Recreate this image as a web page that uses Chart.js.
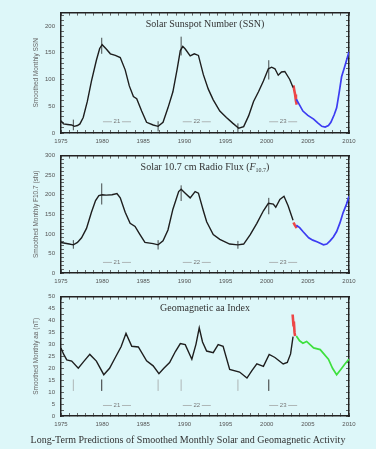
<!DOCTYPE html>
<html>
<head>
<meta charset="utf-8">
<script src="https://cdn.jsdelivr.net/npm/chart.js@4.4.1/dist/chart.umd.min.js"></script>
<style>
html,body{margin:0;padding:0;background:#ddf7f9;}
body{width:376px;height:449px;position:relative;overflow:hidden;}
canvas{position:absolute;left:0;}
#c1{top:0}
#c2{top:143px}
#c3{top:284px}
#foot{position:absolute;top:434px;left:0;width:376px;text-align:center;font:10px "Liberation Serif",serif;color:#333;}
</style>
</head>
<body>
<canvas id="c1" width="376" height="150"></canvas>
<canvas id="c2" width="376" height="147"></canvas>
<canvas id="c3" width="376" height="150"></canvas>
<div id="foot">Long-Term Predictions of Smoothed Monthly Solar and Geomagnetic Activity</div>
<script>
const yearLabels = [1975, 1980, 1985, 1990, 1995, 2000, 2005, 2010];

// sunspot number
const ssnYears = [1975.0,1975.3,1975.8,1976.3,1976.6,1977.0,1977.3,1977.7,1978.2,1978.7,1979.3,1979.7,1980.0,1980.5,1981.0,1981.6,1982.2,1982.8,1983.3,1983.8,1984.2,1984.8,1985.4,1986.2,1986.8,1987.4,1988.0,1988.6,1989.1,1989.5,1989.8,1990.1,1990.7,1991.2,1991.7,1992.3,1992.9,1993.5,1994.3,1995.1,1995.9,1996.6,1997.2,1997.8,1998.4,1999.0,1999.6,2000.2,2000.6,2001.0,2001.4,2001.8,2002.2,2002.8,2003.2];
const ssnValues = [23,17,16,15,12.5,14,17,29,59,97,136,158,165,157,148,145,141,118,88,68,64,41,20,15,12.5,20,47,77,118,154,162,157,144,148,145,109,82,62,41,29,18,9,12,32,59,77,97,120,123,120,108,114,115,100,85];
const ssnRedYears = [2003.25,2003.35,2003.45,2003.55,2003.65];
const ssnRedValues = [89,80,72,60,53];
const ssnPredYears = [2003.6,2004.0,2004.4,2005.0,2005.7,2006.2,2006.7,2007.1,2007.5,2007.8,2008.2,2008.5,2008.8,2009.1,2009.5,2010.0];
const ssnPredValues = [63,52,41,33,26,19,12.5,11,14,20,34,47,75,105,125,152];
const ssnMarkLow = [5,148,3,145,2,100];
const ssnMarkHigh = [25,178,22,180,18,136];

// 10.7 cm flux
const fluxYears = [1975.0,1975.5,1976.0,1976.5,1977.0,1977.5,1978.1,1978.7,1979.2,1979.6,1980.0,1980.5,1981.2,1981.8,1982.2,1982.8,1983.4,1984.0,1984.6,1985.2,1986.2,1986.8,1987.4,1988.0,1988.6,1989.3,1989.6,1990.1,1990.7,1991.3,1991.7,1992.3,1992.7,1993.5,1994.3,1995.5,1996.5,1997.2,1998.0,1998.8,1999.6,2000.2,2000.8,2001.1,2001.6,2002.1,2002.6,2003.2];
const fluxValues = [78,76,74,72,78,90,114,155,185,198,200,199,200,203,192,155,127,119,98,78,75,72,82,110,163,208,214,204,192,208,204,159,131,98,86,74,72,74,98,127,159,178,176,168,188,196,172,135];
const fluxRedYears = [2003.25,2003.4,2003.55,2003.65];
const fluxRedValues = [129,123,118,115];
const fluxPredYears = [2003.6,2004.0,2004.4,2005.1,2005.6,2006.1,2006.5,2006.9,2007.3,2007.7,2008.1,2008.5,2008.9,2009.3,2009.7,2010.0];
const fluxPredValues = [122,116,106,90,84,80,76,72,74,82,92,106,128,155,176,196];
const fluxMarkLow = [62,175,60,184,62,150];
const fluxMarkHigh = [84,229,84,224,82,192];

// geomagnetic aa
const aaYears = [1975.0,1975.3,1975.7,1976.3,1977.1,1977.8,1978.5,1979.3,1980.2,1980.9,1981.6,1982.3,1982.9,1983.6,1984.4,1985.4,1986.2,1986.9,1987.5,1988.2,1988.9,1989.5,1990.1,1990.9,1991.4,1991.8,1992.2,1992.7,1993.5,1994.1,1994.7,1995.5,1996.7,1997.6,1998.2,1998.8,1999.6,2000.3,2001.0,2002.0,2002.5,2002.9,2003.2];
const aaValues = [28.5,26,23.5,23,20,23,25.8,23,17.3,20,24.5,29,34.6,29.2,28.9,23.1,21,17.7,20,22.4,27,30.3,29.9,23.8,30,36.9,31,27.2,26.5,29.9,29.2,19.5,18.4,15.9,19,21.8,20.8,25.8,24.5,21.8,22.4,26,33.2];
const aaRedYears = [2003.15,2003.25,2003.3,2003.38,2003.45];
const aaRedValues = [42.5,38,39.5,35,33.5];
const aaPredYears = [2003.6,2004.0,2004.4,2004.85,2005.7,2006.5,2007.5,2008.0,2008.5,2009.0,2009.5,2010.0];
const aaPredValues = [33.5,31.5,30.5,31.2,28.5,27.8,23.8,20,17.3,19.5,21.8,23.8];
const aaMarkLow = [10.5,10.5,10.5,10.5,10.5,10.5];
const aaMarkHigh = [15.3,15.3,15.3,15.3,15.3,15.3];

const markYears = [1976.5, 1979.95, 1986.8, 1989.6, 1996.5, 2000.25];
const darkMarkYears = [1979.95, 2000.25];
const cycleYears = [1981.8, 1991.5, 2002.0];
const cycleNames = ['21', '22', '23'];

function pts(xs, ys){ return xs.map((x,i)=>({x, y:ys[i]})); }
function marks(lo, hi, keep){
  const out = [];
  markYears.forEach((x,i)=>{
    if(keep && !keep(x)) return;
    out.push({x, y:lo[i]}, {x, y:hi[i]}, {x, y:null});
  });
  return out;
}
function line(data, color, width){
  return {data, borderColor:color, borderWidth:width, pointRadius:0, tension:0, spanGaps:false};
}

const overlay = {
  id:'overlay',
  afterDatasetsDraw(chart, args, o){
    const {ctx, chartArea:a, scales:{x, y}} = chart;
    ctx.save();
    // title inside the frame, drawn as runs so the subscript works
    let w = 0;
    o.title.forEach(r=>{ ctx.font = r.font; w += ctx.measureText(r.t).width; });
    let cx = (a.left + a.right)/2 - w/2;
    const ty = a.top + 12;
    ctx.fillStyle = '#333'; ctx.textBaseline = 'middle'; ctx.textAlign = 'left';
    o.title.forEach(r=>{ ctx.font = r.font; ctx.fillText(r.t, cx, ty + (r.dy||0)); cx += ctx.measureText(r.t).width; });
    // cycle numbers
    ctx.font = '6px "Liberation Sans"'; ctx.fillStyle = '#777'; ctx.strokeStyle = '#999'; ctx.lineWidth = 0.7;
    ctx.textAlign = 'center';
    cycleYears.forEach((yr,i)=>{
      const px = x.getPixelForValue(yr), py = y.getPixelForValue(o.cycleY);
      ctx.fillText(cycleNames[i], px, py);
      ctx.beginPath();
      ctx.moveTo(px-14, py); ctx.lineTo(px-5, py);
      ctx.moveTo(px+5, py); ctx.lineTo(px+14, py);
      ctx.stroke();
    });
    ctx.restore();
  }
};

function makePanel(id, cfg){
  const axisFont = {size:6, family:'"Liberation Sans", sans-serif'};
  const yTicks = [];
  for(let v=0; v<=cfg.max+1e-9; v+=cfg.minor) yTicks.push(+v.toFixed(2));
  const xTicks = [];
  for(let v=1975; v<=2010; v++) xTicks.push(v);
  const frame = {color:'#222', width:1.5};
  const inner = {drawOnChartArea:false, tickLength:-3, tickColor:'#444', tickWidth:0.8};
  new Chart(document.getElementById(id), {
    type:'line',
    data:{datasets:cfg.datasets},
    options:{
      responsive:false, animation:false, parsing:true,
      layout:{padding:{left:32, right:27, top:8, bottom:0}},
      plugins:{legend:{display:false}, tooltip:{enabled:false}, overlay:{title:cfg.title, cycleY:cfg.cycleY}},
      scales:{
        x:{type:'linear', position:'bottom', min:1975, max:2010,
          afterFit:s=>{ s.height = cfg.axisH; },
          afterBuildTicks:s=>{ s.ticks = xTicks.map(v=>({value:v})); },
          ticks:{autoSkip:false, maxRotation:0, padding:8, font:axisFont, color:'#555',
            callback:v=> yearLabels.includes(v) ? String(v) : ''},
          grid:inner, border:frame},
        x2:{type:'linear', position:'top', min:1975, max:2010,
          afterFit:s=>{ s.height = 0; },
          afterBuildTicks:s=>{ s.ticks = xTicks.map(v=>({value:v})); },
          ticks:{display:false}, grid:inner, border:frame},
        y:{type:'linear', position:'left', min:0, max:cfg.max,
          afterFit:s=>{ s.width = 29; },
          afterBuildTicks:s=>{ s.ticks = yTicks.map(v=>({value:v})); },
          ticks:{autoSkip:false, padding:9, font:axisFont, color:'#555',
            callback:v=> (Math.abs(v % cfg.major) < 1e-6 && v <= cfg.lastLabel) ? String(v) : ''},
          title:{display:true, text:cfg.yTitle, color:'#666', padding:0, font:{size:6.5, family:'"Liberation Sans", sans-serif'}},
          grid:inner, border:frame},
        y2:{type:'linear', position:'right', min:0, max:cfg.max,
          afterFit:s=>{ s.width = 0; },
          afterBuildTicks:s=>{ s.ticks = yTicks.map(v=>({value:v})); },
          ticks:{display:false}, grid:inner, border:frame}
      }
    },
    plugins:[overlay]
  });
}

const serif = '"Liberation Serif", serif';
const black = '#1e1e1e';

makePanel('c1', {
  max:225, minor:10, major:50, lastLabel:200, axisH:17, cycleY:21,
  yTitle:'Smoothed Monthly SSN',
  title:[{t:'Solar Sunspot Number (SSN)', font:'10px '+serif}],
  datasets:[
    line(pts(ssnYears, ssnValues), black, 1.4),
    line(marks(ssnMarkLow, ssnMarkHigh), black, 0.8),
    line(pts(ssnPredYears, ssnPredValues), '#3c3cf2', 1.7),
    line(pts(ssnRedYears, ssnRedValues), 'rgba(240,40,40,0.85)', 2.6)
  ]
});

makePanel('c2', {
  max:300, minor:10, major:50, lastLabel:300, axisH:17, cycleY:27,
  yTitle:'Smoothed Monthly F10.7 (sfu)',
  title:[{t:'Solar 10.7 cm Radio Flux (', font:'10px '+serif},
         {t:'F', font:'italic 10px '+serif},
         {t:'10.7', font:'6px '+serif, dy:3},
         {t:')', font:'10px '+serif}],
  datasets:[
    line(pts(fluxYears, fluxValues), black, 1.4),
    line(marks(fluxMarkLow, fluxMarkHigh), black, 0.8),
    line(pts(fluxPredYears, fluxPredValues), '#3c3cf2', 1.7),
    line(pts(fluxRedYears, fluxRedValues), 'rgba(240,40,40,0.85)', 2.6)
  ]
});

makePanel('c3', {
  max:50, minor:2.5, major:5, lastLabel:50, axisH:18, cycleY:4.4,
  yTitle:'Smoothed Monthly aa (nT)',
  title:[{t:'Geomagnetic aa Index', font:'10px '+serif}],
  datasets:[
    line(pts(aaYears, aaValues), black, 1.4),
    line(marks(aaMarkLow, aaMarkHigh, x=>darkMarkYears.includes(x)), '#333', 1.0),
    line(marks(aaMarkLow, aaMarkHigh, x=>!darkMarkYears.includes(x)), '#999', 0.7),
    line(pts(aaPredYears, aaPredValues), '#3ee03e', 1.7),
    line(pts(aaRedYears, aaRedValues), 'rgba(240,40,40,0.85)', 2.6)
  ]
});
</script>
</body>
</html>
